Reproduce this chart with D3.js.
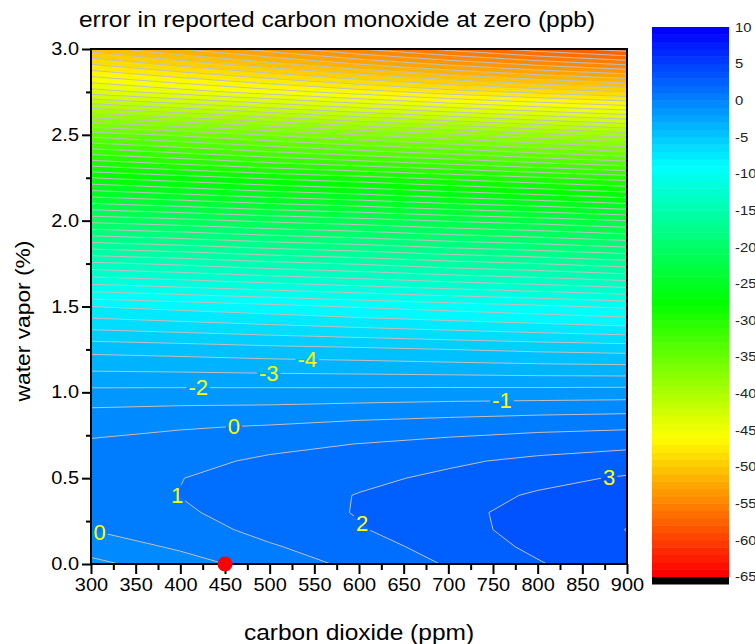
<!DOCTYPE html>
<html>
<head>
<meta charset="utf-8">
<script src="https://cdn.jsdelivr.net/npm/d3@7"></script>
<style>
  html, body { margin: 0; padding: 0; background: #fff; }
  svg { display: block; font-family: "Liberation Sans", Arial, sans-serif; }
</style>
</head>
<body>
<svg id="chart" width="755" height="644"></svg>
<script>
// Grid columns: carbon dioxide (ppm)
const co2Levels = [300, 400, 500, 600, 700, 800, 900];
// Grid rows: water vapor (%)
const waterLevels = [0, 0.1, 0.2, 0.3, 0.4, 0.5, 0.6, 0.7, 0.8, 0.9, 1.0,
                     1.25, 1.5, 1.75, 2.0, 2.25, 2.5, 2.75, 3.0];

// Error in reported CO at zero (ppb), one array per CO2 column, listed along waterLevels
const err300 = [-1.25, -0.6, 0.02, 0.3, 0.48, 0.45, 0.32, 0.15, -0.33, -0.92, -1.73, -4.3, -8.0, -13.8, -20.3, -27.0, -34.4, -43.5, -50.5];
const err400 = [-0.45, 0.15, 0.55, 0.85, 1.02, 0.98, 0.8, 0.42, -0.1, -0.8, -1.7, -4.45, -8.35, -14.2, -20.7, -27.6, -35.2, -44.5, -52.0];
const err500 = [0.45, 0.9, 1.3, 1.5, 1.54, 1.42, 1.12, 0.8, 0.08, -0.75, -1.68, -4.65, -8.7, -14.7, -21.2, -28.2, -36.1, -45.5, -53.5];
const err600 = [1.25, 1.56, 1.92, 2.06, 2.04, 1.8, 1.42, 1.01, 0.35, -0.6, -1.66, -4.8, -9.1, -15.1, -21.6, -28.7, -37.0, -46.5, -55.0];
const err700 = [2.08, 2.4, 2.65, 2.75, 2.62, 2.18, 1.85, 1.3, 0.52, -0.45, -1.62, -5.0, -9.45, -15.6, -22.1, -29.3, -37.8, -47.5, -56.3];
const err800 = [2.92, 3.2, 3.35, 3.3, 3.1, 2.75, 2.2, 1.55, 0.72, -0.35, -1.6, -5.2, -9.8, -16.0, -22.5, -29.9, -38.7, -48.3, -57.5];
const err900 = [3.7, 3.88, 4.02, 3.85, 3.55, 3.1, 2.5, 1.73, 0.84, -0.27, -1.55, -5.35, -10.2, -16.5, -23.0, -30.5, -39.5, -49.0, -58.5];

// Contour levels every 1 ppb; anything below -65 is drawn black
const levelMin = -66, levelMax = 10;
const contourLevels = d3.range(levelMin, levelMax + 1);

// Axis ticks
const co2Ticks = d3.range(300, 901, 50);
const co2Minor = d3.range(325, 900, 50);
const waterTicks = [0, 0.5, 1.0, 1.5, 2.0, 2.5, 3.0];
const waterMinor = [0.25, 0.75, 1.25, 1.75, 2.25, 2.75];
const colorbarTicks = d3.range(10, -66, -5);

// Contour labels: value, approximate CO2 and water position
const labelValues = [0, 1, 2, 3, 0, -1, -2, -3, -4];
const labelCo2 =    [310, 391, 599, 880, 460, 760, 420, 499, 542];
const labelWater =  [0.19, 0.39, 0.215, 0.507, 0.80, 0.955, 1.083, 1.118, 1.188];

// Zero-air reference point
const refCo2 = [450];
const refWater = [0];

const svg = d3.select("#chart");
const W = 755, H = 644;
const plot = { left: 91, right: 627, top: 49, bottom: 564 };

const x = d3.scaleLinear().domain([300, 900]).range([plot.left, plot.right]);
const y = d3.scaleLinear().domain([0, 3]).range([plot.bottom, plot.top]);

// Rainbow palette: red (low) -> yellow -> green -> cyan -> blue (high)
const palette = d3.scaleLinear()
  .domain([0, 0.25, 0.5, 0.75, 1])
  .range(["#ff0000", "#ffff00", "#00ff00", "#00ffff", "#0000ff"])
  .interpolate(d3.interpolateRgb);
function bandColor(t) {
  if (t < -65) return "#000000";
  return palette((t + 65) / (levelMax - 1 + 65));
}
const plainInt = d => String(d);

// Build the value grid (row-major, rows = water, cols = CO2)
const columns = [err300, err400, err500, err600, err700, err800, err900];
const nx = co2Levels.length, ny = waterLevels.length;
const values = new Array(nx * ny);
for (let j = 0; j < ny; j++)
  for (let i = 0; i < nx; i++)
    values[j * nx + i] = columns[i][j];

const colIndex = d3.scaleLinear().domain(d3.range(nx)).range(co2Levels);
const rowIndex = d3.scaleLinear().domain(d3.range(ny)).range(waterLevels);
const gx = u => x(colIndex(Math.max(0, Math.min(nx - 1, u - 0.5))));
const gy = v => y(rowIndex(Math.max(0, Math.min(ny - 1, v - 0.5))));

const contours = d3.contours().size([nx, ny]).thresholds(contourLevels)(values);

const proj = d3.geoTransform({
  point(px, py) { this.stream.point(gx(px), gy(py)); }
});
const geoPath = d3.geoPath(proj);

// Clip region for the plot
const defs = svg.append("defs");
defs.append("clipPath").attr("id", "plotClip")
  .append("rect")
  .attr("x", plot.left).attr("y", plot.top)
  .attr("width", plot.right - plot.left).attr("height", plot.bottom - plot.top);

// Filled bands
const fillG = svg.append("g").attr("clip-path", "url(#plotClip)");
fillG.selectAll("path")
  .data(contours)
  .join("path")
  .attr("d", geoPath)
  .attr("fill", d => bandColor(d.value))
  .attr("stroke", d => bandColor(d.value))
  .attr("stroke-width", 0.3);

// Isolines: contour rings without the grid-boundary edges
function onSameEdge(p, q) {
  return (p[0] === 0 && q[0] === 0) || (p[0] === nx && q[0] === nx) ||
         (p[1] === 0 && q[1] === 0) || (p[1] === ny && q[1] === ny);
}
function lineSegments(geom) {
  const segs = [];
  geom.coordinates.forEach(poly => poly.forEach(ring => {
    for (let k = 1; k < ring.length; k++) {
      const p = ring[k - 1], q = ring[k];
      if (onSameEdge(p, q)) continue;
      segs.push([[gx(p[0]), gy(p[1])], [gx(q[0]), gy(q[1])]]);
    }
  }));
  return segs;
}
function segPath(segs) {
  let d = "", last = null;
  segs.forEach(([a, b]) => {
    if (!last || Math.abs(last[0] - a[0]) > 1e-6 || Math.abs(last[1] - a[1]) > 1e-6) d += "M" + a[0] + "," + a[1];
    d += "L" + b[0] + "," + b[1];
    last = b;
  });
  return d;
}
const lineContours = contours.filter(c => c.value >= -65 && c.value <= levelMax);
const segsByValue = new Map(lineContours.map(c => [c.value, lineSegments(c)]));

// Contour labels snapped to their isolines
function nearestOnSegs(segs, px, py) {
  let best = null, bd = Infinity;
  segs.forEach(([a, b]) => {
    const dx = b[0] - a[0], dy = b[1] - a[1];
    const L = dx * dx + dy * dy;
    let t = L > 0 ? ((px - a[0]) * dx + (py - a[1]) * dy) / L : 0;
    t = Math.max(0, Math.min(1, t));
    const cx = a[0] + t * dx, cy = a[1] + t * dy;
    const dd = (cx - px) ** 2 + (cy - py) ** 2;
    if (dd < bd) { bd = dd; best = [cx, cy]; }
  });
  return best;
}
const labels = labelValues.map((v, i) => {
  const tx = x(labelCo2[i]), ty = y(labelWater[i]);
  const p = nearestOnSegs(segsByValue.get(v) || [], tx, ty) || [tx, ty];
  return { value: v, x: p[0], y: p[1] };
});

const mask = defs.append("mask").attr("id", "labelGaps")
  .attr("maskUnits", "userSpaceOnUse")
  .attr("x", 0).attr("y", 0).attr("width", W).attr("height", H);
mask.append("rect").attr("x", 0).attr("y", 0).attr("width", W).attr("height", H).attr("fill", "#fff");

const lineG = svg.append("g").attr("clip-path", "url(#plotClip)")
  .append("g").attr("mask", "url(#labelGaps)");
lineG.selectAll("path")
  .data(lineContours)
  .join("path")
  .attr("d", d => segPath(segsByValue.get(d.value)))
  .attr("fill", "none")
  .attr("stroke", "#c0c0c0")
  .attr("stroke-width", 1);

const labelG = svg.append("g");
labels.forEach(l => {
  const t = labelG.append("text")
    .attr("x", l.x).attr("y", l.y)
    .attr("text-anchor", "middle")
    .attr("dominant-baseline", "central")
    .attr("font-size", 22)
    .attr("fill", "#ffff00")
    .text(plainInt(l.value));
  const bb = t.node().getBBox();
  mask.append("rect")
    .attr("x", bb.x - 2).attr("y", bb.y + 2)
    .attr("width", bb.width + 4).attr("height", bb.height - 4)
    .attr("fill", "#000");
});

// Frame
svg.append("rect")
  .attr("x", plot.left).attr("y", plot.top)
  .attr("width", plot.right - plot.left).attr("height", plot.bottom - plot.top)
  .attr("fill", "none").attr("stroke", "#000").attr("stroke-width", 2);

const textStretch = 1.14;

// Bottom axis
const xAxis = svg.append("g").attr("transform", `translate(0,${plot.bottom})`)
  .call(d3.axisBottom(x).tickValues(co2Ticks).tickSize(10).tickPadding(5).tickFormat(plainInt));
const xMinor = svg.append("g").attr("transform", `translate(0,${plot.bottom})`)
  .call(d3.axisBottom(x).tickValues(co2Minor).tickSize(6).tickFormat(""));
// Left axis
const yAxis = svg.append("g").attr("transform", `translate(${plot.left},0)`)
  .call(d3.axisLeft(y).tickValues(waterTicks).tickSize(9).tickPadding(4).tickFormat(d3.format(".1f")));
const yMinor = svg.append("g").attr("transform", `translate(${plot.left},0)`)
  .call(d3.axisLeft(y).tickValues(waterMinor).tickSize(5).tickFormat(""));

[xAxis, xMinor, yAxis, yMinor].forEach(g => {
  g.select(".domain").remove();
  g.selectAll(".tick line").attr("stroke", "#000").attr("stroke-width", 2);
  g.selectAll(".tick text")
    .attr("font-family", "'Liberation Sans', Arial, sans-serif")
    .attr("font-size", 17.5)
    .attr("fill", "#000");
});
xAxis.selectAll(".tick text").attr("transform", `scale(${textStretch},1)`);
yAxis.selectAll(".tick text").attr("transform", `scale(${textStretch},1)`)
  .attr("x", -12 / textStretch);

// Zero point marker
svg.append("g").selectAll("circle")
  .data(refCo2.map((c, i) => [c, refWater[i]]))
  .join("circle")
  .attr("cx", d => x(d[0])).attr("cy", d => y(d[1]))
  .attr("r", 7.5).attr("fill", "#ff0000");

// Titles
function stretchedText(px, py, str, size, anchor, rotate) {
  return svg.append("text")
    .attr("transform", `translate(${px},${py})${rotate ? ` rotate(${rotate})` : ""} scale(${textStretch},1)`)
    .attr("text-anchor", anchor)
    .attr("font-size", size)
    .attr("fill", "#000")
    .text(str);
}
stretchedText(337, 27, "error in reported carbon monoxide at zero (ppb)", 21.5, "middle");
stretchedText(359, 640, "carbon dioxide (ppm)", 21.5, "middle");
stretchedText(30, 321, "water vapor (%)", 20, "middle", -90);

// Colour bar
const cb = { left: 652, right: 729, top: 27, bottom: 584 };
const cbY = d3.scaleLinear().domain([levelMin, levelMax]).range([cb.bottom, cb.top]);
svg.append("g").selectAll("rect")
  .data(d3.range(levelMin, levelMax))
  .join("rect")
  .attr("x", cb.left).attr("width", cb.right - cb.left)
  .attr("y", d => cbY(d + 1)).attr("height", d => cbY(d) - cbY(d + 1) + 0.5)
  .attr("fill", d => bandColor(d));
const cbAxis = svg.append("g").attr("transform", `translate(${cb.right},0)`)
  .call(d3.axisRight(cbY).tickValues(colorbarTicks).tickSize(0).tickPadding(5).tickFormat(plainInt));
cbAxis.select(".domain").remove();
cbAxis.selectAll(".tick text")
  .attr("font-family", "'Liberation Sans', Arial, sans-serif")
  .attr("font-size", 13)
  .attr("fill", "#222")
  .attr("transform", `scale(${textStretch},1)`)
  .attr("x", 6 / textStretch);
</script>
</body>
</html>
